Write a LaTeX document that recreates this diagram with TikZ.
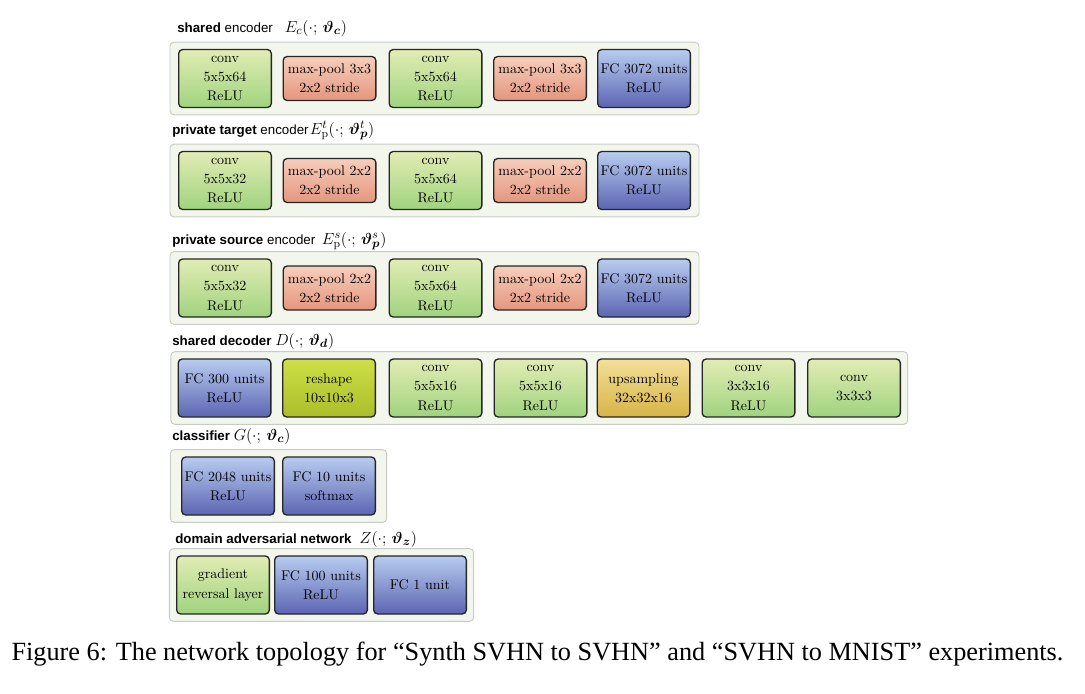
\documentclass[tikz,border=0pt]{standalone}
\usepackage{amsmath, bm}
\usepackage{fontspec}
\setsansfont{Liberation Sans}
\newfontfamily\capfont{Liberation Serif}
\usetikzlibrary{positioning, backgrounds, fit, calc}
\definecolor{convT}{RGB}{226, 236, 180}
\definecolor{convB}{RGB}{160, 211, 126}
\definecolor{poolT}{RGB}{247, 206, 187}
\definecolor{poolB}{RGB}{228, 150, 126}
\definecolor{fcT}{RGB}{184, 204, 240}
\definecolor{fcB}{RGB}{92, 101, 178}
\definecolor{rshpT}{RGB}{206, 224, 72}
\definecolor{rshpB}{RGB}{170, 190, 42}
\definecolor{upsmT}{RGB}{243, 223, 152}
\definecolor{upsmB}{RGB}{214, 180, 70}
\definecolor{panelF}{RGB}{243, 246, 236}
\definecolor{panelD}{RGB}{200, 204, 195}
\newcommand{\hmath}[1]{{\fontsize{12.2}{14}\selectfont$#1$}}
\tikzset{
  panel/.style={rounded corners=3pt, draw=panelD, fill=panelF, line width=0.7pt,
                inner sep=5pt},
  blk/.style={rounded corners=3pt, draw=black!85, line width=1pt,
              top color=#1T, bottom color=#1B, align=center,
              font=\fontsize{10.5}{14.5}\selectfont, inner sep=2pt,
              minimum width=69.5pt},
  tall/.style={minimum height=43.5pt},
  short/.style={minimum height=33pt},
  hdr/.style={anchor=base west, inner sep=0pt,
              font=\fontsize{10}{12}\selectfont\sffamily},
}

\begin{document}
\begin{tikzpicture}[x=0.75pt, y=-0.75pt]
\useasboundingbox (0,0) rectangle (1085,693);

% ===================== encoders: shared / private target / private source ==
\foreach \r/\y/\k/\m in {sc/78.5/64/3x3, pt/180.5/32/2x2, ps/288/32/2x2} {
  \node[blk=conv, tall] (\r1) at (225,\y) {conv\\5x5x\k\\ReLU};
  \node[blk=pool, short] (\r2) at (329.5,\y) {max-pool \m\\2x2 stride};
  \node[blk=conv, tall] (\r3) at (435.5,\y) {conv\\5x5x64\\ReLU};
  \node[blk=pool, short] (\r4) at (540,\y) {max-pool \m\\2x2 stride};
  \node[blk=fc, tall] (\r5) at (644,\y) {FC 3072 units\\ReLU};
  \begin{scope}[on background layer]
    \node[panel, fit=(\r1)(\r5), inner xsep=6pt] (\r) {};
  \end{scope}
}
\node[hdr] (hsc) at (177,32)
  {\textbf{shared} encoder\hspace{9pt}\hmath{E_c(\cdot;\,\bm{\vartheta}_{\bm{c}})}};
\node[hdr] (hpt) at (172,134)
  {\textbf{private target} encoder\hspace{1pt}\hmath{E_{\mathrm{p}}^{t}(\cdot;\,\bm{\vartheta}_{\bm{p}}^{t})}};
\node[hdr] (hps) at (172,244)
  {\textbf{private source} encoder\hspace{5pt}\hmath{E_{\mathrm{p}}^{s}(\cdot;\,\bm{\vartheta}_{\bm{p}}^{s})}};

% ===================== shared decoder =======================================
\node[blk=fc, tall]   (d1) at (224.5,388) {FC 300 units\\ReLU};
\node[blk=rshp, tall] (d2) at (329,388)   {reshape\\10x10x3};
\node[blk=conv, tall] (d3) at (435.5,388) {conv\\5x5x16\\ReLU};
\node[blk=conv, tall] (d4) at (540.5,388) {conv\\5x5x16\\ReLU};
\node[blk=upsm, tall] (d5) at (643.5,388) {upsampling\\32x32x16};
\node[blk=conv, tall] (d6) at (748.5,388) {conv\\3x3x16\\ReLU};
\node[blk=conv, tall] (d7) at (854,388)   {conv\\3x3x3};
\begin{scope}[on background layer]
  \node[panel, fit=(d1)(d7)] (dec) {};
\end{scope}
\node[hdr] (hdec) at (172,345)
  {\textbf{shared decoder} \hmath{D(\cdot;\,\bm{\vartheta}_{\bm{d}})}};

% ===================== classifier ===========================================
\node[blk=fc, tall] (c1) at (228,486) {FC 2048 units\\ReLU};
\node[blk=fc, tall] (c2) at (329,486) {FC 10 units\\softmax};
\begin{scope}[on background layer]
  \node[panel, fit=(c1)(c2), inner xsep=8pt] (cls) {};
\end{scope}
\node[hdr] (hcls) at (172,440)
  {\textbf{classifier} \hmath{G(\cdot;\,\bm{\vartheta}_{\bm{c}})}};

% ===================== domain adversarial network ===========================
\node[blk=conv, tall] (z1) at (223,585) {gradient\\reversal layer};
\node[blk=fc, tall]   (z2) at (321,585) {FC 100 units\\ReLU};
\node[blk=fc, tall]   (z3) at (420,585) {FC 1 unit};
\begin{scope}[on background layer]
  \node[panel, fit=(z1)(z3)] (dan) {};
\end{scope}
\node[hdr] (hdan) at (175,543)
  {\textbf{domain adversarial network}\hspace{6pt}\hmath{Z(\cdot;\,\bm{\vartheta}_{\bm{z}})}};

% caption
\node[font=\capfont\fontsize{19.7}{22}\selectfont] (cap) at (537.5,654)
  {Figure 6: The network topology for “Synth SVHN to SVHN” and “SVHN to MNIST” experiments.};
\end{tikzpicture}
\end{document}
